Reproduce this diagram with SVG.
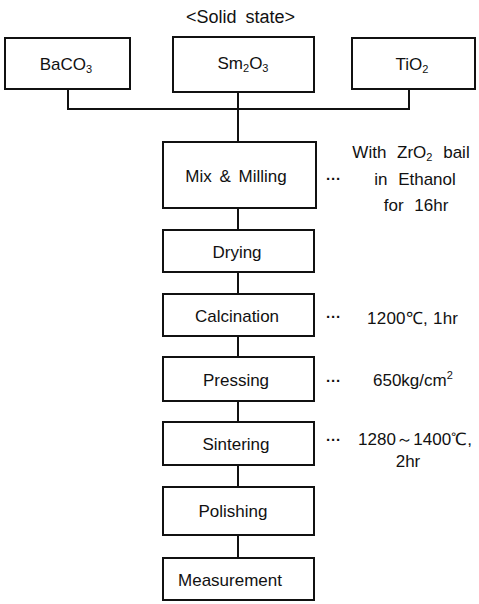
<svg xmlns="http://www.w3.org/2000/svg" width="479" height="604" viewBox="0 0 479 604">
<style>
.box{fill:#fff;stroke:#111;stroke-width:2}
.ln{fill:none;stroke:#111;stroke-width:2}
text{font-family:"Liberation Sans",Arial,sans-serif;font-size:17px;fill:#111}
.c{text-anchor:middle}
.sub{font-size:11px}
.d{font-weight:bold;font-size:15px}
.s{word-spacing:6px}
</style>
<rect width="479" height="604" fill="#fff"/>
<text x="186" y="23" style="font-size:18px;word-spacing:4px">&lt;Solid state&gt;</text>
<g id="connectors">
<path class="ln" d="M68 89V109H409V89M238 92V142M238 208V230M238 272V294M238 336V357M238 401V422M238 465V487M238 535V558"/>
</g>
<g id="baco3"><rect class="box" x="5" y="38" width="125" height="51"/><text class="c" x="66" y="70">BaCO<tspan class="sub" dy="3">3</tspan></text></g>
<g id="sm2o3"><rect class="box" x="173" y="37" width="141" height="55"/><text class="c" x="243" y="69">Sm<tspan class="sub" dy="3">2</tspan><tspan dy="-3">O</tspan><tspan class="sub" dy="3">3</tspan></text></g>
<g id="tio2"><rect class="box" x="352" y="38" width="123" height="51"/><text class="c" x="412" y="70">TiO<tspan class="sub" dy="3">2</tspan></text></g>
<g id="mix"><rect class="box" x="163" y="142" width="153" height="66"/><text class="c" x="236" y="182" style="word-spacing:3px">Mix &amp; Milling</text>
<text class="d" x="326" y="184">···</text>
<text class="c s" x="411" y="158">With ZrO<tspan class="sub" dy="3">2</tspan><tspan dy="-3"> bail</tspan></text>
<text class="c s" x="415" y="185">in Ethanol</text>
<text class="c s" x="416" y="211">for 16hr</text></g>
<g id="drying"><rect class="box" x="163" y="230" width="151" height="42"/><text class="c" x="237" y="258">Drying</text></g>
<g id="calcination"><rect class="box" x="163" y="294" width="151" height="42"/><text class="c" x="237" y="322">Calcination</text>
<text class="d" x="326" y="322">···</text><text x="367" y="324" textLength="91" lengthAdjust="spacing">1200℃, 1hr</text></g>
<g id="pressing"><rect class="box" x="163" y="357" width="151" height="44"/><text class="c" x="236" y="386">Pressing</text>
<text class="d" x="326" y="386">···</text><text x="373" y="386">650kg/cm<tspan class="sub" dy="-7">2</tspan></text></g>
<g id="sintering"><rect class="box" x="163" y="422" width="151" height="43"/><text class="c" x="236" y="450">Sintering</text>
<text class="d" x="326" y="445">···</text><text x="358" y="445" textLength="114" lengthAdjust="spacing">1280～1400℃,</text><text class="c" x="408" y="467">2hr</text></g>
<g id="polishing"><rect class="box" x="163" y="487" width="151" height="48"/><text class="c" x="233" y="517">Polishing</text></g>
<g id="measurement"><rect class="box" x="163" y="558" width="151" height="42"/><text class="c" x="230" y="586">Measurement</text></g>
</svg>
